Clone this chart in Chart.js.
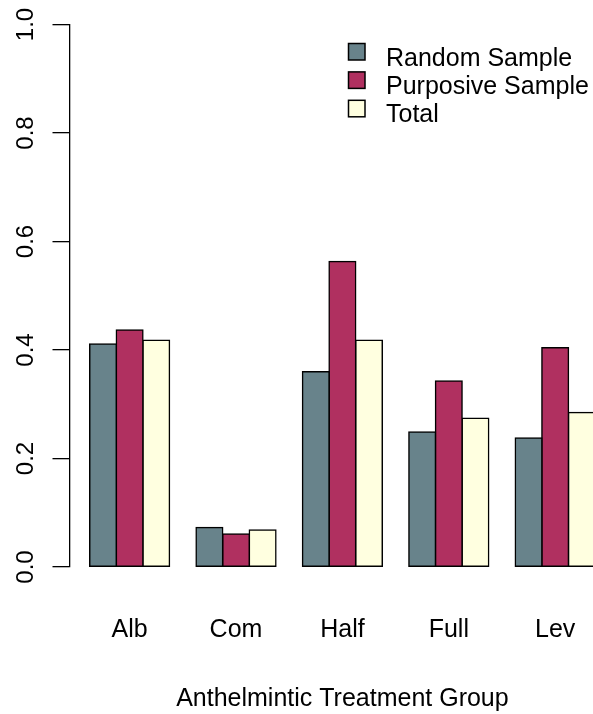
<!DOCTYPE html>
<html>
<head>
<meta charset="utf-8">
<script src="https://cdn.jsdelivr.net/npm/chart.js@4.4.0/dist/chart.umd.min.js"></script>
<style>
  html, body { margin: 0; padding: 0; background: #fff; }
  #wrap { width: 593px; height: 714px; overflow: hidden; }
  canvas { display: block; }
</style>
</head>
<body>
<div id="wrap"><canvas id="chart" width="640" height="714"></canvas></div>
<script>
// Datos: proporción por grupo de tratamiento
const categories = ['Alb', 'Com', 'Half', 'Full', 'Lev'];
const randomSample = [0.411, 0.073, 0.360, 0.249, 0.238];
const purposiveSample = [0.437, 0.061, 0.563, 0.343, 0.404];
const totalSample = [0.418, 0.068, 0.418, 0.274, 0.285];
const yTicks = [0, 0.2, 0.4, 0.6, 0.8, 1.0];
const yTickLabels = ['0.0', '0.2', '0.4', '0.6', '0.8', '1.0'];
const seriesNames = ['Random Sample', 'Purposive Sample', 'Total'];
const xTitle = 'Anthelmintic Treatment Group';

const FONT = '"Liberation Sans", Arial, Helvetica, sans-serif';
const FONT_SIZE = 25;
const colors = ['#68838B', '#B03060', '#FFFFE0'];

// Centro de cada grupo, como barplot de R (3 barras + 1 de espacio)
function groupPos(i) { return 2.5 + 4 * i; }
function toPoints(values) { return values.map((v, i) => ({ x: groupPos(i), y: v })); }

// Etiquetas del eje Y giradas (como en R)
const yLabelsPlugin = {
    id: 'yLabels',
    afterDraw(chart) {
        const ctx = chart.ctx;
        const y = chart.scales.y;
        ctx.save();
        ctx.font = '24px ' + FONT;
        ctx.fillStyle = '#000';
        ctx.textAlign = 'center';
        ctx.textBaseline = 'alphabetic';
        yTicks.forEach((v, i) => {
            ctx.save();
            ctx.translate(33, y.getPixelForValue(v));
            ctx.rotate(-Math.PI / 2);
            ctx.fillText(yTickLabels[i], 0, 0);
            ctx.restore();
        });
        ctx.restore();
    }
};

// Leyenda arriba a la derecha
const legendPlugin = {
    id: 'rLegend',
    afterDraw(chart) {
        const ctx = chart.ctx;
        ctx.save();
        ctx.font = FONT_SIZE + 'px ' + FONT;
        ctx.textAlign = 'left';
        ctx.textBaseline = 'alphabetic';
        chart.data.datasets.forEach((ds, i) => {
            const top = 43.5 + 28.4 * i;
            ctx.fillStyle = ds.backgroundColor;
            ctx.fillRect(348.5, top, 16.5, 16.5);
            ctx.lineWidth = 1.5;
            ctx.strokeStyle = '#000';
            ctx.strokeRect(348.5, top, 16.5, 16.5);
            ctx.fillStyle = '#000';
            ctx.fillText(ds.label, 386, top + 22);
        });
        ctx.restore();
    }
};

const seriesValues = [randomSample, purposiveSample, totalSample];

const config = {
    type: 'bar',
    data: {
        datasets: seriesValues.map((vals, i) => ({
            label: seriesNames[i],
            data: toPoints(vals),
            backgroundColor: colors[i],
            borderColor: '#000',
            borderWidth: 1.5,
            borderSkipped: false,
            inflateAmount: 0.75,
            categoryPercentage: 0.75,
            barPercentage: 1.0
        }))
    },
    options: {
        responsive: false,
        animation: false,
        layout: { padding: { left: 0, right: 24.7, top: 24.5, bottom: 0 } },
        plugins: {
            legend: { display: false },
            tooltip: { enabled: false }
        },
        scales: {
            x: {
                type: 'linear',
                min: 0.24,
                max: 20.76,
                offset: false,
                grid: { display: false, drawTicks: false },
                border: { display: false },
                afterBuildTicks: scale => {
                    scale.ticks = categories.map((c, i) => ({ value: groupPos(i) }));
                },
                afterFit: scale => { scale.height = 147; },
                ticks: {
                    autoSkip: false,
                    maxRotation: 0,
                    padding: 48,
                    color: '#000',
                    font: { family: FONT, size: FONT_SIZE },
                    callback: (v, i) => categories[i]
                },
                title: {
                    display: true,
                    text: xTitle,
                    color: '#000',
                    font: { family: FONT, size: FONT_SIZE },
                    padding: { top: 0, bottom: 0 }
                }
            },
            y: {
                min: 0,
                max: 1,
                afterBuildTicks: scale => {
                    scale.ticks = yTicks.map(v => ({ value: v }));
                },
                afterFit: scale => { scale.width = 69.5; },
                ticks: { display: false },
                grid: {
                    drawOnChartArea: false,
                    drawTicks: true,
                    tickLength: 17,
                    color: '#000',
                    lineWidth: 1.3
                },
                border: { display: true, color: '#000', width: 1.3 }
            }
        }
    },
    plugins: [yLabelsPlugin, legendPlugin]
};

new Chart(document.getElementById('chart'), config);
</script>
</body>
</html>
